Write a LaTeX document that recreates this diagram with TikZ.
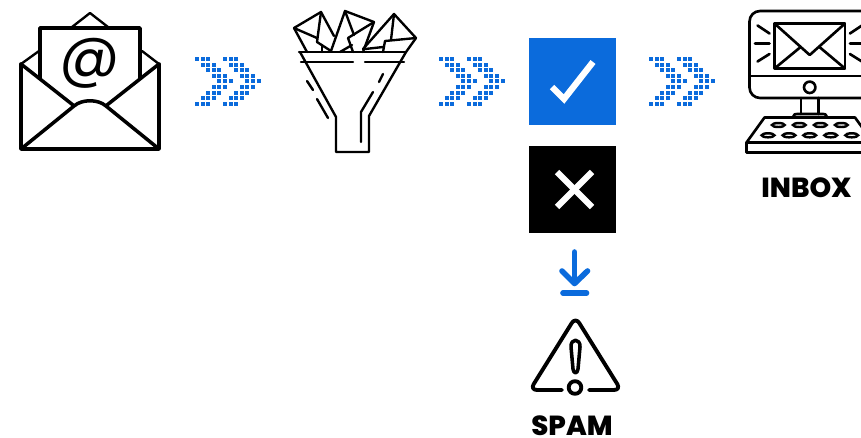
\documentclass[tikz,border=0pt]{standalone}
\usepackage{fontspec}
\setmainfont{Poppins}
\newfontfamily\capfont{Poppins ExtraBold}
\definecolor{signalBlue}{RGB}{11, 107, 220}
\usepackage{tikz}
\usetikzlibrary{positioning,calc}
\tikzset{
    iconline/.style={black,line width=2pt,line join=round,line cap=round},
    midline/.style={black,line width=1.5pt,line join=round,line cap=round},
    thinline/.style={black,line width=1.35pt,line join=round,line cap=round},
    boxmark/.style={white,line width=3.6pt},
    bluemark/.style={signalBlue,line width=3.2pt,line cap=round,line join=round},
    caption/.style={font=\capfont\fontsize{15.7}{16}\selectfont,inner sep=0pt}
}
% two chevrons of dots, left edge at #1
\newcommand{\dotchevrons}[1]{
    \foreach \row/\col in {0/0,1/1,2/2,3/3,4/4,5/3,6/2,7/1,8/0}
        \foreach \k in {0,1,2,5,6,7}
            \fill[signalBlue] ({#1+(\col+\k)*5.6},{57+\row*5.6}) rectangle ++(3.9,3.9);
}
\begin{document}
\begin{tikzpicture}[x=0.02cm,y=-0.02cm]
    \clip (0,0) rectangle (861,437);

    % Open envelope
    \draw[iconline] (21,64) -- (21,149) -- (159,149) -- (159,64);
    \draw[iconline] (21,64) -- (73,105);
    \draw[iconline] (159,64) -- (107,105);
    \draw[iconline] (21,149) -- (74,106) .. controls (82,99) and (98,99) .. (106,106) -- (159,149);
    \draw[iconline] (40,78) -- (40,28) -- (140,28) -- (140,78);
    \draw[thinline] (72,27) -- (90,13) -- (108,27);
    \draw[thinline] (21,64) -- (39,51);
    \draw[thinline] (159,64) -- (142,51);
    \node[inner sep=0pt,font=\fontsize{34}{34}\selectfont] (atsign) at (90,63) {@};

    \dotchevrons{195}

    % Funnel with letters
    \draw[thinline] (299,52) -- (406,52);
    \draw[thinline] (300,52) -- (336,117) -- (336,152) -- (369,152) -- (369,116) -- (406,52);
    \draw[thinline] (301,62) -- (353,62);
    \draw[thinline] (365,62) -- (404,62);
    \draw[thinline] (307,81) -- (313,90);
    \draw[thinline] (317,99) -- (328,118);
    \draw[thinline] (383,74) -- (379,82);
    \draw[thinline] (373,92) -- (361,112) -- (361,142);
    \draw[thinline] (307,52) -- (294,28) -- (321,12) -- (334,36);
    \draw[thinline] (294,28) -- (317,38);
    \draw[thinline] (321,12) -- (317,42) -- (331,51);
    \draw[thinline] (322,45) -- (322,52);
    \draw[thinline] (331,51) -- (345,11) -- (374,22) -- (363,52);
    \draw[thinline] (345,11) -- (354,35);
    \draw[thinline] (374,22) -- (348,38) -- (353,52);
    \draw[thinline] (340,52) -- (352,45);
    \draw[thinline] (363,49) -- (394,14) -- (416,38) -- (406,52);
    \draw[thinline] (394,14) -- (391,40);
    \draw[thinline] (416,38) -- (385,41) -- (383,52);
    \draw[thinline] (365,49) -- (383,47);

    \dotchevrons{439}

    % Check and cross
    \fill[signalBlue] (529,38) rectangle (616,125);
    \draw[boxmark] (552,87) -- (564,99) -- (593,62);
    \fill[black] (529,146) rectangle (616,233);
    \draw[boxmark] (557,172) -- (592,207);
    \draw[boxmark] (592,172) -- (557,207);

    % Down arrow
    \draw[bluemark] (574.5,252) -- (574.5,283);
    \draw[bluemark] (562,271) -- (574.5,283.5) -- (587.5,271);
    \draw[bluemark] (563,293) -- (586.5,293);

    % Warning sign
    \draw[iconline,line width=2.2pt,rounded corners=4pt] (562,390) -- (530,390) -- (575.5,317) -- (621,390) -- (589,390);
    \draw[iconline,line width=2.2pt] (575,387.5) circle (6.3);
    \draw[iconline] (571,347) .. controls (570.5,338) and (580.5,338) .. (580,347)
        -- (578,369) .. controls (577.5,374) and (573.5,374) .. (573,369) -- cycle;
    \node[caption] (spam) at (572,425.5) {SPAM};

    \dotchevrons{649}

    % Monitor
    \draw[midline,rounded corners=6pt] (871,98) -- (749.5,98) -- (749.5,11) -- (871,11);
    \draw[midline] (749.5,76) -- (871,76);
    \draw[midline] (774.5,23.5) rectangle (845,68.5);
    \draw[midline] (774.5,23.5) -- (809.7,55) -- (845,23.5);
    \draw[midline] (774.5,68.5) -- (800,47.5);
    \draw[midline] (845,68.5) -- (820,47.5);
    \foreach \sx/\ex in {757.5/769.5,861.9/849.9}{
        \draw[midline] (\sx,25.5) -- (\ex,33.5);
        \draw[midline] (\sx,61.5) -- (\ex,54);
    }
    \draw[midline] (755,43.5) -- (769.5,43.5);
    \draw[midline] (850,43.5) -- (864,43.5);
    \draw[midline] (809.7,87.3) circle (5.7);
    \draw[midline] (801,98) -- (801,114);
    \draw[midline] (818.7,98) -- (818.7,114);
    \draw[midline] (793,117) .. controls (794,114) and (795,114) .. (797,114) -- (823,114)
        .. controls (825,114) and (826,114) .. (827,117);
    % Keyboard
    \draw[midline] (764.5,117.5) -- (855,117.5) -- (873,142.5) -- (746.5,142.5) -- cycle;
    \draw[midline] (746.5,142.5) -- (746.5,152.5) -- (873,152.5) -- (873,142.5);
    \foreach \kx in {778.3,799.3,820.3,841.3}
        \draw[black,line width=1.4pt] (\kx,125) ellipse (6.3 and 2);
    \foreach \kx in {768,789,809.7,830.7,851.7}
        \draw[black,line width=1.4pt] (\kx,135.3) ellipse (6.3 and 2);
    \node[caption] (inbox) at (806.5,188) {INBOX};
\end{tikzpicture}
\end{document}
